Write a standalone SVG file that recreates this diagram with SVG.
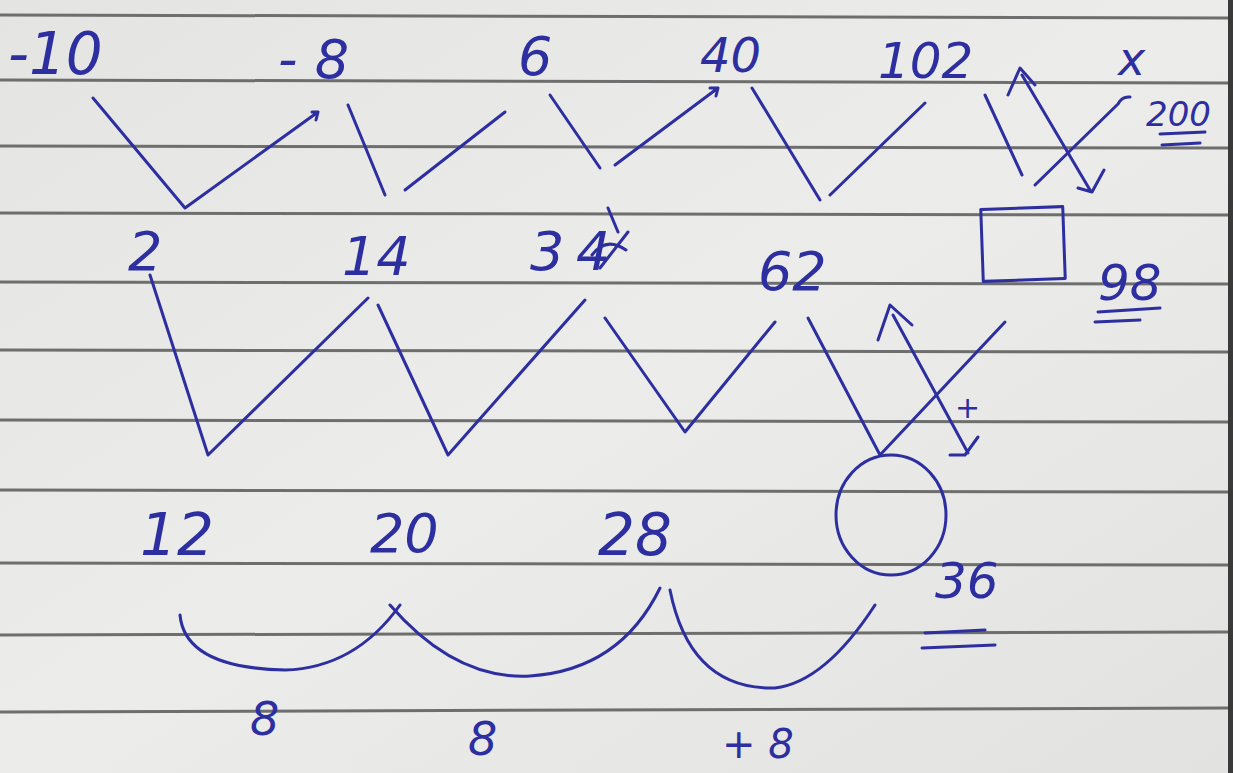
<svg xmlns="http://www.w3.org/2000/svg" width="1233" height="773" viewBox="0 0 1233 773">
<defs>
<linearGradient id="paper" x1="0" y1="0" x2="1" y2="1">
<stop offset="0" stop-color="#e4e4e2"/>
<stop offset="0.5" stop-color="#ececea"/>
<stop offset="1" stop-color="#e2e2e0"/>
</linearGradient>
<style>
.rule{stroke:#6e6e6e;stroke-width:3;fill:none}
.ink{stroke:#2d2fa0;stroke-width:3;fill:none;stroke-linecap:round;stroke-linejoin:round}
.num{font-family:"DejaVu Sans","Liberation Sans",sans-serif;fill:#2d2fa0;font-style:italic}
</style>
</defs>
<rect width="1233" height="773" fill="url(#paper)"/>
<rect x="1228" y="0" width="5" height="773" fill="#3a3a3a"/>
<g id="rules">
<path class="rule" d="M0 15 L1228 18"/>
<path class="rule" d="M0 80 L1228 83"/>
<path class="rule" d="M0 146 L1228 148"/>
<path class="rule" d="M0 213 L1228 215"/>
<path class="rule" d="M0 282 L1228 284"/>
<path class="rule" d="M0 350 L1228 352"/>
<path class="rule" d="M0 420 L1228 422"/>
<path class="rule" d="M0 490 L1228 492"/>
<path class="rule" d="M0 563 L1228 565"/>
<path class="rule" d="M0 635 L1228 632"/>
<path class="rule" d="M0 712 L1228 708"/>
</g>
<g id="row1-text">
<text class="num" x="8" y="74" font-size="58">-10</text>
<text class="num" x="278" y="78" font-size="54">- 8</text>
<text class="num" x="518" y="75" font-size="54">6</text>
<text class="num" x="700" y="72" font-size="48">40</text>
<text class="num" x="878" y="78" font-size="50">102</text>
<text class="num" x="1118" y="75" font-size="46">x</text>
<text class="num" x="1146" y="126" font-size="34">200</text>
<path class="ink" d="M1160 134 L1205 132 M1162 145 L1200 143"/>
</g>
<g id="row2-text">
<text class="num" x="128" y="270" font-size="54">2</text>
<text class="num" x="342" y="275" font-size="54">14</text>
<text class="num" x="530" y="270" font-size="54">3</text>
<text class="num" x="576" y="270" font-size="54">4</text>
<path class="ink" d="M608 208 L618 232 M592 255 Q606 236 626 250 M600 268 L628 232"/>
<text class="num" x="758" y="290" font-size="54">62</text>
<rect class="ink" x="982" y="208" width="82" height="72" transform="rotate(-2 1023 244)"/>
<text class="num" x="1098" y="300" font-size="50">98</text>
<path class="ink" d="M1098 312 L1160 308 M1095 322 L1140 320"/>
</g>
<g id="row3-text">
<text class="num" x="140" y="555" font-size="58">12</text>
<text class="num" x="370" y="552" font-size="54">20</text>
<text class="num" x="598" y="555" font-size="58">28</text>
<ellipse class="ink" cx="891" cy="515" rx="55" ry="60"/>
<text class="num" x="935" y="598" font-size="50">36</text>
<path class="ink" d="M925 633 L985 630 M922 648 L995 645"/>
</g>
<g id="row4-text">
<text class="num" x="250" y="735" font-size="46">8</text>
<text class="num" x="468" y="755" font-size="46">8</text>
<text class="num" x="722" y="758" font-size="40">+ 8</text>
<text class="num" x="955" y="418" font-size="30">+</text>
</g>
<g id="connectors">
<path class="ink" d="M93 98 L185 208 L318 112 M312 112 L318 112 L316 120"/>
<path class="ink" d="M348 105 L385 195 M405 190 L505 112"/>
<path class="ink" d="M550 95 L600 168 M615 165 L718 88 M710 88 L718 88 L716 96"/>
<path class="ink" d="M752 88 L820 200 M830 195 L925 103"/>
<path class="ink" d="M985 95 L1022 175"/>
<path class="ink" d="M1022 75 L1090 190 M1008 95 L1020 68 L1035 85 M1078 188 L1092 192 L1104 170"/>
<path class="ink" d="M1130 97 Q1122 96 1118 104 L1035 185"/>
<path class="ink" d="M150 275 L208 455 L368 298"/>
<path class="ink" d="M378 305 L448 455 L585 300"/>
<path class="ink" d="M605 318 L685 432 L775 322"/>
<path class="ink" d="M808 318 L880 455 L1005 322"/>
<path class="ink" d="M893 315 L968 453 M878 340 L890 305 L912 325 M950 455 L965 455 L978 437"/>
<path class="ink" d="M180 615 Q185 668 285 670 Q355 668 400 605"/>
<path class="ink" d="M390 605 Q455 680 530 676 Q620 670 660 588"/>
<path class="ink" d="M670 590 Q690 690 775 688 Q825 682 875 605"/>
</g>
</svg>
